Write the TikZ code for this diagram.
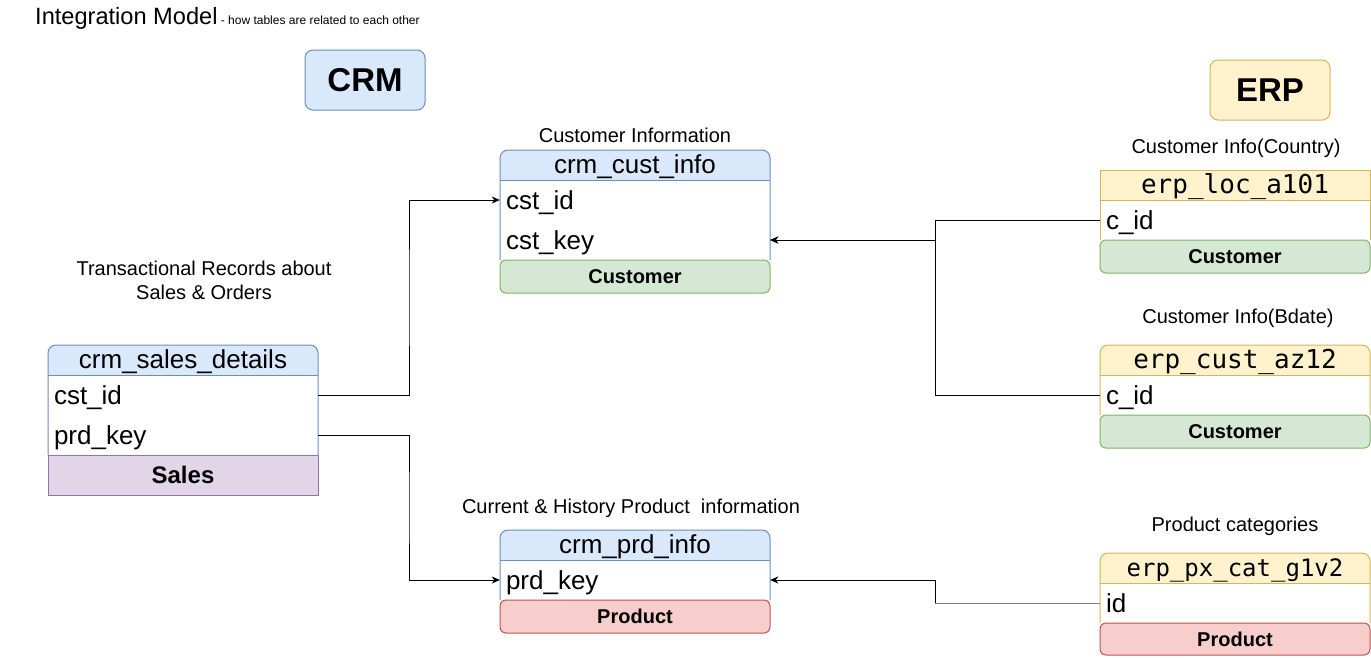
\documentclass[tikz,border=0pt]{standalone}
\usepackage{fontspec}
\setmainfont{Liberation Sans}
\newfontfamily\erdmono{DejaVu Sans Mono}
\usetikzlibrary{arrows.meta,calc}
\definecolor{blueF}{HTML}{DAE8FC}\definecolor{blueD}{HTML}{6C8EBF}
\definecolor{yelF}{HTML}{FFF2CC}\definecolor{yelD}{HTML}{D6B656}
\definecolor{greenF}{HTML}{D5E8D4}\definecolor{greenD}{HTML}{82B366}
\definecolor{redF}{HTML}{F8CECC}\definecolor{redD}{HTML}{B85450}
\definecolor{purF}{HTML}{E1D5E7}\definecolor{purD}{HTML}{9673A6}
\definecolor{linkgray}{HTML}{808080}
\tikzset{
  tline/.style={line width=1pt},
  hdr/.style={font=\fontsize{26}{30}\selectfont, inner sep=0pt, text height=18pt, text depth=2pt},
  hdrmono/.style={font=\erdmono\fontsize{26}{30}\selectfont, inner sep=0pt, text height=18pt, text depth=2pt},
  rowcell/.style={minimum width=270pt, minimum height=40pt, text width=258pt, inner xsep=6pt, inner ysep=0pt, align=left, font=\fontsize{26}{30}\selectfont, text height=21pt, text depth=2pt},
  ftr/.style={font=\bfseries\fontsize{20}{24}\selectfont, inner sep=0pt},
  lbl/.style={font=\fontsize{20}{24}\selectfont, inner sep=0pt, align=center},
  groupbox/.style={line width=1pt, rounded corners=8pt, minimum width=120pt, minimum height=60pt, font=\bfseries\fontsize{33}{38}\selectfont},
  conn/.style={line width=1pt, -{Stealth[length=8pt,width=7pt,inset=2.5pt]}},
  connline/.style={line width=1pt}
}
% #1 x0, #2 top, #3 header bottom, #4 footer top, #5 bottom, #6 header colour prefix, #7 footer colour prefix, #8 top corner style, #9 footer corner style
\newcommand{\erdbox}[9]{%
  \fill[#6F, #8] (#1,#2) rectangle (#1+270,#3+10);
  \fill[white] (#1,#3) rectangle (#1+270,#4);
  \draw[#6D, tline, #8] (#1,#4) -- (#1,#2) -- (#1+270,#2) -- (#1+270,#4);
  \draw[#6D, tline] (#1,#3) -- (#1+270,#3);
  \draw[#7D, fill=#7F, tline, #9] (#1,#4) rectangle (#1+270,#5);
}
\begin{document}
\begin{tikzpicture}[x=1pt,y=-1pt]
\useasboundingbox (0,0) rectangle (1371,657);
\fill[white] (0,0) rectangle (1371,657);

% title
\node[anchor=base west, inner sep=0pt] (title) at (35,24.5)
  {\fontsize{23.6}{28}\selectfont Integration Model\fontsize{12}{14}\selectfont{} - how tables are related to each other};

% group boxes
\node[groupbox, draw=blueD, fill=blueF] (crm) at (365,80) {CRM};
\node[groupbox, draw=yelD, fill=yelF] (erp) at (1270,90) {ERP};

% labels
\node[lbl] (lcust) at (635,135) {Customer Information};
\node[lbl] (lsales) at (204,280) {Transactional Records about\\[0pt]Sales \& Orders};
\node[lbl] (lprd) at (631,508) {Current \& History Product\ \ information};
\node[lbl] (lloc) at (1236,148) {Customer Info(Country)};
\node[lbl] (laz) at (1238,318) {Customer Info(Bdate)};
\node[lbl] (lpx) at (1235,526) {Product categories};

% crm_cust_info
\erdbox{500}{150}{180}{260}{293}{blue}{green}{rounded corners=8pt}{rounded corners=6pt}
\node[hdr] (custh) at (635,165) {crm\_cust\_info};
\node[rowcell] (ccid) at (635,200) {cst\_id};
\node[rowcell] (ckey) at (635,240) {cst\_key};
\node[ftr] (custf) at (635,276.5) {Customer};

% crm_sales_details
\erdbox{48}{345}{375}{455}{495}{blue}{pur}{rounded corners=8pt}{sharp corners}
\node[hdr] (salesh) at (183,360) {crm\_sales\_details};
\node[rowcell] (scid) at (183,395) {cst\_id};
\node[rowcell] (skey) at (183,435) {prd\_key};
\node[ftr, font=\bfseries\fontsize{24}{28}\selectfont] (salesf) at (183,475) {Sales};

% crm_prd_info
\erdbox{500}{530}{560}{600}{633}{blue}{red}{rounded corners=8pt}{rounded corners=6pt}
\node[hdr] (prdh) at (635,545) {crm\_prd\_info};
\node[rowcell] (pkey) at (635,580) {prd\_key};
\node[ftr] (prdf) at (635,616.5) {Product};

% erp_loc_a101
\erdbox{1100}{170}{200}{240}{273}{yel}{green}{sharp corners}{rounded corners=6pt}
\node[hdrmono] (loch) at (1235,185) {erp\_loc\_a101};
\node[rowcell] (lcid) at (1235,220) {c\_id};
\node[ftr] (locf) at (1235,256.5) {Customer};

% erp_cust_az12
\erdbox{1100}{345}{375}{415}{448}{yel}{green}{rounded corners=8pt}{rounded corners=6pt}
\node[hdrmono] (azh) at (1235,360) {erp\_cust\_az12};
\node[rowcell] (acid) at (1235,395) {c\_id};
\node[ftr] (azf) at (1235,431.5) {Customer};

% erp_px_cat_g1v2
\erdbox{1100}{553}{583}{623}{655}{yel}{red}{rounded corners=8pt}{rounded corners=6pt}
\node[hdrmono, font=\erdmono\fontsize{24}{28}\selectfont] (pxh) at (1235,568) {erp\_px\_cat\_g1v2};
\node[rowcell] (pid) at (1235,603) {id};
\node[ftr] (pxf) at (1235,639) {Product};

% connectors
\draw[conn] (scid.east) -| ($(scid.east)!.5!(ccid.west)$) |- (ccid.west);
\draw[conn] (skey.east) -| ($(skey.east)!.5!(pkey.west)$) |- (pkey.west);
\draw[conn] (lcid.west) -| ($(lcid.west)!.5!(ckey.east)$) |- (ckey.east);
\draw[conn] (acid.west) -| ($(acid.west)!.5!(ckey.east)$) |- (ckey.east);
\coordinate (pxbend) at ($(pid.west)!.5!(pkey.east)$);
\draw[connline, linkgray] (pid.west) -- (pid.west -| pxbend);
\draw[conn] (pid.west -| pxbend) |- (pkey.east);
\end{tikzpicture}
\end{document}
